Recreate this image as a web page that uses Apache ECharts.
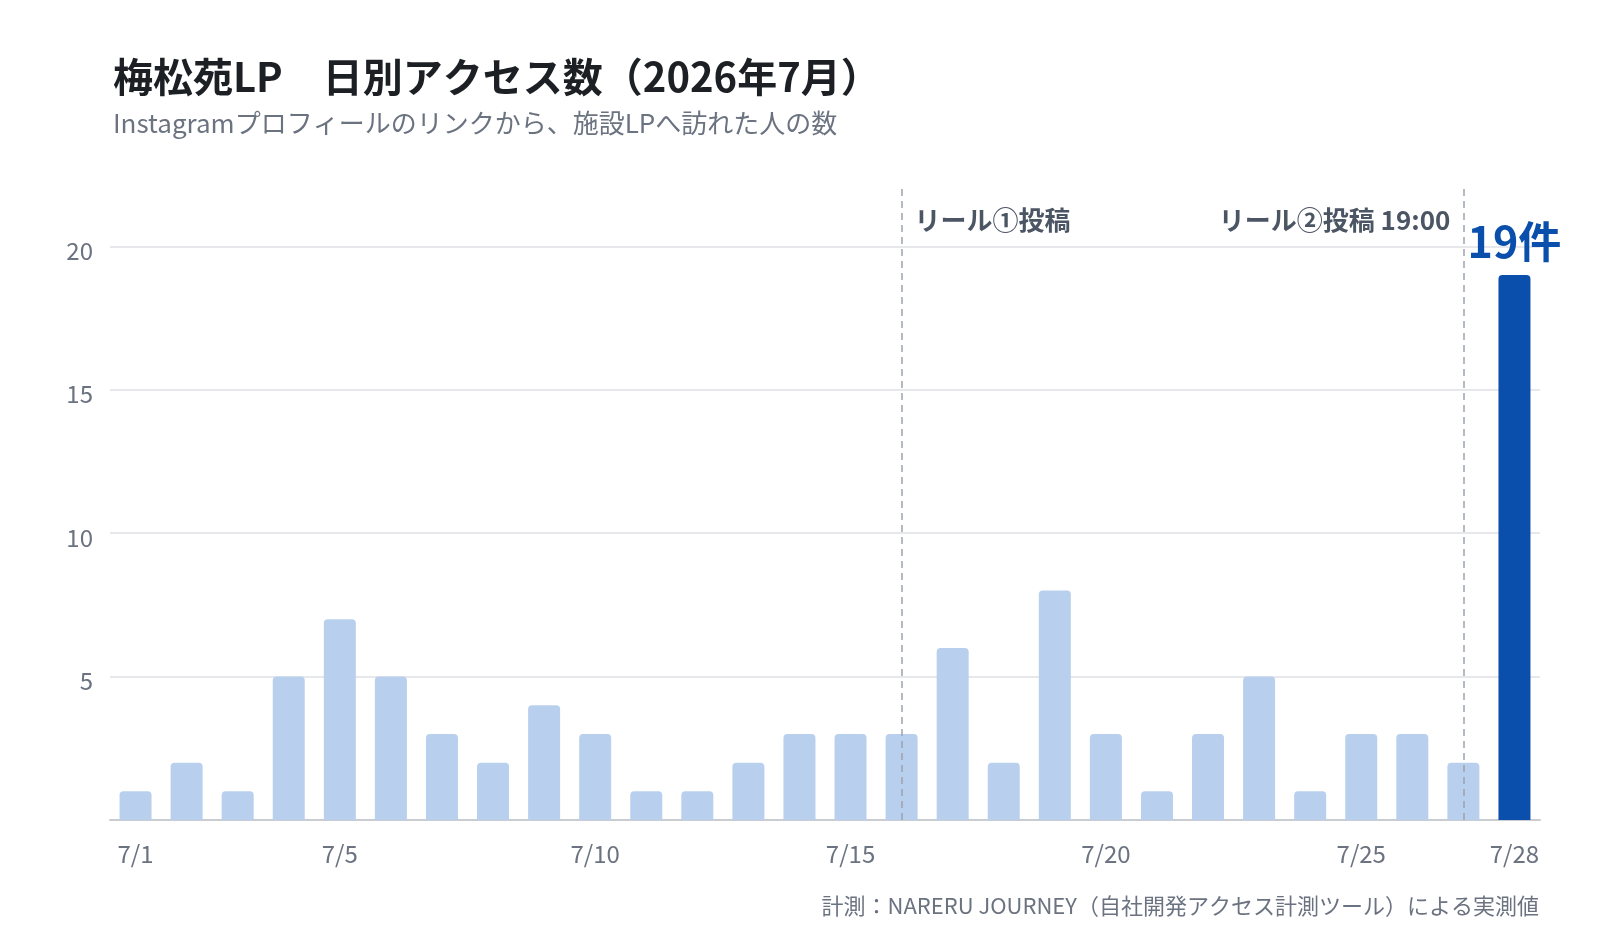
<!DOCTYPE html>
<html><head><meta charset="utf-8">
<script src="https://cdn.jsdelivr.net/npm/echarts@6/dist/echarts.min.js"></script>
<style>html,body{margin:0;padding:0;background:#fff}#c{width:1600px;height:940px}</style>
</head><body><div id="c"></div>
<script>
const days = ['7/1','7/2','7/3','7/4','7/5','7/6','7/7','7/8','7/9','7/10','7/11','7/12','7/13','7/14','7/15','7/16','7/17','7/18','7/19','7/20','7/21','7/22','7/23','7/24','7/25','7/26','7/27','7/28'];
const visits = [1,2,1,5,7,5,3,2,4,3,1,1,2,3,3,3,6,2,8,3,1,3,5,1,3,3,2,19];
const shownLabels = ['7/1','7/5','7/10','7/15','7/20','7/25','7/28'];
const events = [
  {day:'7/16', text:'リール①投稿', side:'right'},
  {day:'7/27', text:'リール②投稿 19:00', side:'left'}
];
const highlightDay = '7/28';
const highlightLabel = '19件';
const titleText = '梅松苑LP　日別アクセス数（2026年7月）';
const subText = 'Instagramプロフィールのリンクから、施設LPへ訪れた人の数';
const footText = '計測：NARERU JOURNEY（自社開発アクセス計測ツール）による実測値';

const FONT = '"Noto Sans CJK JP", "Noto Sans", sans-serif';
const chart = echarts.init(document.getElementById('c'), null, {renderer:'canvas'});
const barData = visits.map((v,i)=> days[i]===highlightDay ? {
  value:v, itemStyle:{color:'#0b4fad'},
  label:{show:true, position:'top', distance:12, formatter:highlightLabel, color:'#0b4fad', fontSize:43, fontWeight:'bold', fontFamily:FONT}
} : v);
chart.setOption({
  animation:false,
  textStyle:{fontFamily:FONT},
  title:[{
    text:titleText, subtext:subText, left:108, top:48, itemGap:8,
    textStyle:{fontSize:40, fontWeight:'bold', color:'#1c1f24', lineHeight:47, fontFamily:FONT},
    subtextStyle:{fontSize:26, color:'#6b7280', lineHeight:30, fontFamily:FONT}
  },{
    text:footText, right:56, top:888,
    textStyle:{fontSize:22, fontWeight:'normal', color:'#6b7280', lineHeight:26, fontFamily:FONT}
  }],
  grid:{left:110, right:60, top:189, bottom:120},
  xAxis:{
    type:'category', data:days,
    axisLine:{lineStyle:{color:'#c9ccd1', width:2}},
    axisTick:{show:false},
    axisLabel:{interval:(i,v)=>shownLabels.includes(v), color:'#6b7280', fontSize:24, margin:22, fontFamily:FONT}
  },
  yAxis:{
    type:'value', min:0, max:22, interval:5,
    axisLine:{show:false}, axisTick:{show:false},
    axisLabel:{color:'#6b7280', fontSize:24, margin:17, verticalAlign:'top', lineHeight:9, showMinLabel:false, showMaxLabel:false, fontFamily:FONT},
    splitLine:{show:true, showMinLine:false, showMaxLine:false, lineStyle:{color:'#e6e8ec', width:2}}
  },
  series:[{
    type:'bar', data:barData, barWidth:32,
    itemStyle:{color:'#b9cfee', borderRadius:[4,4,0,0]},
    markLine:{
      silent:true, symbol:['none','none'],
      lineStyle:{color:'#9ca3af', type:[7,5], width:1.5},
      label:{show:false},
      data: events.map(e=>({xAxis:e.day}))
    },
    markPoint:{
      silent:true, symbol:'circle', symbolSize:0,
      data: events.map(e=>({
        coord:[e.day, 20.9],
        label:{show:true, position:e.side, distance:13, formatter:e.text, color:'#4b5563', fontSize:26, fontWeight:'bold', fontFamily:FONT}
      }))
    }
  }]
});
</script></body></html>
